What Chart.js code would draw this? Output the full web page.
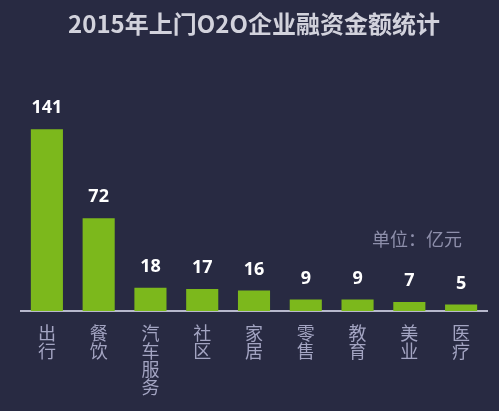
<!DOCTYPE html>
<html>
<head>
<meta charset="utf-8">
<script src="https://cdn.jsdelivr.net/npm/chart.js@4/dist/chart.umd.min.js"></script>
<style>
  html, body { margin: 0; padding: 0; background: #282a42; }
  #wrap { width: 499px; height: 411px; }
</style>
</head>
<body>
<div id="wrap"><canvas id="c" width="499" height="411"></canvas></div>
<script>
const titleText = '2015年上门O2O企业融资金额统计';
const unitText = '单位：亿元';
const categories = ['出行', '餐饮', '汽车服务', '社区', '家居', '零售', '教育', '美业', '医疗'];
const values = [141, 72, 18, 17, 16, 9, 9, 7, 5];

const BG = '#282a42';
const CJK = '"Noto Sans CJK SC", "Noto Sans", sans-serif';

const bgPlugin = {
  id: 'bg',
  beforeDraw(chart) {
    const ctx = chart.ctx;
    ctx.save();
    ctx.fillStyle = BG;
    ctx.fillRect(0, 0, chart.width, chart.height);
    ctx.restore();
  }
};

const labelPlugin = {
  id: 'valueLabels',
  afterDatasetsDraw(chart) {
    const ctx = chart.ctx;
    const meta = chart.getDatasetMeta(0);
    ctx.save();
    ctx.fillStyle = '#ffffff';
    ctx.font = 'bold 18px "Noto Sans", "Open Sans", sans-serif';
    ctx.textAlign = 'center';
    ctx.textBaseline = 'middle';
    meta.data.forEach((bar, i) => {
      ctx.fillText(String(values[i]), bar.x, bar.y - 21);
    });
    // unit label
    const area = chart.chartArea;
    ctx.fillStyle = '#8e8fab';
    ctx.font = '18px ' + CJK;
    ctx.fillText(unitText, area.right - 70, area.bottom - 72);
    ctx.restore();
  }
};

new Chart(document.getElementById('c'), {
  type: 'bar',
  data: {
    labels: categories.map(c => c.split('')),
    datasets: [{
      data: values,
      backgroundColor: '#7cb81c',
      borderWidth: 0,
      barPercentage: 0.62,
      categoryPercentage: 1.0
    }]
  },
  options: {
    responsive: false,
    animation: false,
    devicePixelRatio: 1,
    layout: { padding: { left: 21, right: 12, top: 0, bottom: 0 } },
    plugins: {
      legend: { display: false },
      tooltip: { enabled: false },
      title: {
        display: true,
        text: titleText,
        color: '#d2d2dc',
        font: { family: CJK, size: 24, weight: 'bold', lineHeight: 1.2 },
        padding: { top: 9, bottom: 67 }
      }
    },
    scales: {
      x: {
        grid: { display: false, drawTicks: false },
        border: { display: true, color: '#b7b8cc', width: 2 },
        ticks: {
          color: '#a3a4c2',
          font: { family: CJK, size: 18, lineHeight: 1.0 },
          padding: 13,
          maxRotation: 0,
          autoSkip: false
        },
        afterFit(scale) { scale.height = 100; }
      },
      y: {
        display: false,
        min: 0,
        max: 160
      }
    }
  },
  plugins: [bgPlugin, labelPlugin]
});
</script>
</body>
</html>
